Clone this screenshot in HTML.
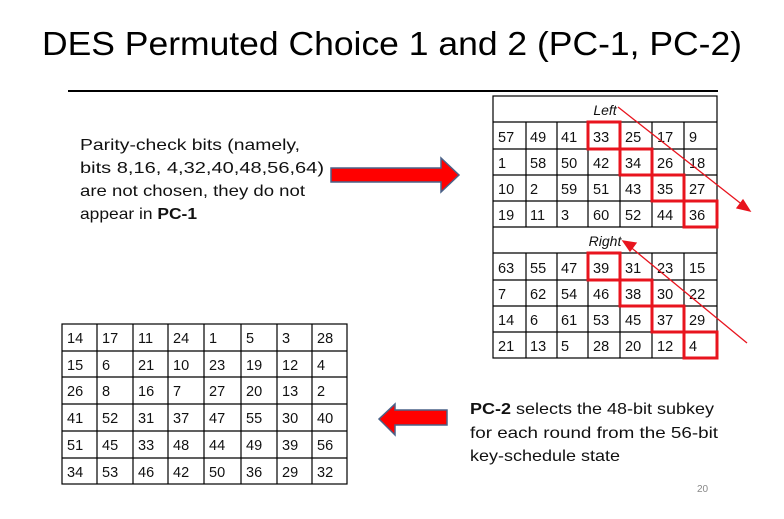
<!DOCTYPE html>
<html><head><meta charset="utf-8"><style>
html,body{margin:0;padding:0;background:#fff;}
svg{display:block;font-family:"Liberation Sans",sans-serif;}
</style></head><body>
<svg width="784" height="519" viewBox="0 0 784 519" xmlns="http://www.w3.org/2000/svg">
<text x="42" y="55" font-size="33" fill="#000" textLength="700" lengthAdjust="spacingAndGlyphs">DES Permuted Choice 1 and 2 (PC-1, PC-2)</text>
<line x1="68" y1="91" x2="718" y2="91" stroke="#000" stroke-width="2"/>
<g font-size="16" fill="#111">
<text x="80" y="150" textLength="220" lengthAdjust="spacingAndGlyphs">Parity-check bits (namely,</text>
<text x="80" y="173" textLength="244" lengthAdjust="spacingAndGlyphs">bits 8,16, 4,32,40,48,56,64)</text>
<text x="80" y="196" textLength="225" lengthAdjust="spacingAndGlyphs">are not chosen, they do not</text>
<text x="80" y="219" textLength="117" lengthAdjust="spacingAndGlyphs">appear in <tspan font-weight="bold">PC-1</tspan></text>
<text x="470" y="414" textLength="244" lengthAdjust="spacingAndGlyphs"><tspan font-weight="bold">PC-2</tspan> selects the 48-bit subkey</text>
<text x="470" y="438" textLength="248" lengthAdjust="spacingAndGlyphs">for each round from the 56-bit</text>
<text x="470" y="461" textLength="150" lengthAdjust="spacingAndGlyphs">key-schedule state</text>
</g>
<text x="697" y="492" font-size="10" fill="#888">20</text>
<polygon points="331,168 441,168 441,158 459,175 441,192 441,182 331,182" fill="#f00" stroke="#4a6288" stroke-width="1.5"/>
<polygon points="447,410 395,410 395,404 379,419 395,435 395,425 447,425" fill="#f00" stroke="#4a6288" stroke-width="1.5"/>
<g stroke="#000" stroke-width="1.2" fill="none">
<rect x="493" y="96" width="224" height="262"/>
<line x1="493" y1="122" x2="717" y2="122"/><line x1="493" y1="149" x2="717" y2="149"/>
<line x1="493" y1="175" x2="717" y2="175"/><line x1="493" y1="201" x2="717" y2="201"/>
<line x1="493" y1="227" x2="717" y2="227"/><line x1="493" y1="253" x2="717" y2="253"/>
<line x1="493" y1="280" x2="717" y2="280"/><line x1="493" y1="306" x2="717" y2="306"/>
<line x1="493" y1="332" x2="717" y2="332"/>
<path d="M526 122V227M557 122V227M588 122V227M620 122V227M652 122V227M684 122V227"/>
<path d="M526 253V358M557 253V358M588 253V358M620 253V358M652 253V358M684 253V358"/>
</g>
<g font-size="14" fill="#111">
<text x="605" y="115" text-anchor="middle" font-style="italic">Left</text>
<text x="605" y="246" text-anchor="middle" font-style="italic">Right</text>
</g>
<g font-size="14.5" fill="#111">
<text y="142"><tspan x="498">57</tspan><tspan x="530">49</tspan><tspan x="561">41</tspan><tspan x="593">33</tspan><tspan x="625">25</tspan><tspan x="657">17</tspan><tspan x="689">9</tspan></text>
<text y="168"><tspan x="498">1</tspan><tspan x="530">58</tspan><tspan x="561">50</tspan><tspan x="593">42</tspan><tspan x="625">34</tspan><tspan x="657">26</tspan><tspan x="689">18</tspan></text>
<text y="194"><tspan x="498">10</tspan><tspan x="530">2</tspan><tspan x="561">59</tspan><tspan x="593">51</tspan><tspan x="625">43</tspan><tspan x="657">35</tspan><tspan x="689">27</tspan></text>
<text y="220"><tspan x="498">19</tspan><tspan x="530">11</tspan><tspan x="561">3</tspan><tspan x="593">60</tspan><tspan x="625">52</tspan><tspan x="657">44</tspan><tspan x="689">36</tspan></text>
<text y="273"><tspan x="498">63</tspan><tspan x="530">55</tspan><tspan x="561">47</tspan><tspan x="593">39</tspan><tspan x="625">31</tspan><tspan x="657">23</tspan><tspan x="689">15</tspan></text>
<text y="299"><tspan x="498">7</tspan><tspan x="530">62</tspan><tspan x="561">54</tspan><tspan x="593">46</tspan><tspan x="625">38</tspan><tspan x="657">30</tspan><tspan x="689">22</tspan></text>
<text y="325"><tspan x="498">14</tspan><tspan x="530">6</tspan><tspan x="561">61</tspan><tspan x="593">53</tspan><tspan x="625">45</tspan><tspan x="657">37</tspan><tspan x="689">29</tspan></text>
<text y="351"><tspan x="498">21</tspan><tspan x="530">13</tspan><tspan x="561">5</tspan><tspan x="593">28</tspan><tspan x="625">20</tspan><tspan x="657">12</tspan><tspan x="689">4</tspan></text>
</g>
<g stroke="#e8141e" stroke-width="3" fill="none">
<rect x="588" y="122" width="32" height="27"/><rect x="620" y="149" width="32" height="26"/>
<rect x="652" y="175" width="32" height="26"/><rect x="684" y="201" width="33" height="26"/>
<rect x="588" y="253" width="32" height="27"/><rect x="620" y="280" width="32" height="26"/>
<rect x="652" y="306" width="32" height="26"/><rect x="684" y="332" width="33" height="26"/>
</g>
<g stroke="#e8141e" stroke-width="1.3" fill="#e8141e">
<line x1="618" y1="107" x2="744" y2="206"/>
<polygon points="750,211 737,208 743,200"/>
<line x1="747" y1="343" x2="628" y2="245"/>
<polygon points="623,241 636,243 630,251"/>
</g>
<g stroke="#000" stroke-width="1.2" fill="none">
<rect x="62" y="324" width="285" height="160"/>
<path d="M62 351H347M62 377H347M62 404H347M62 431H347M62 458H347"/>
<path d="M97 324V484M133 324V484M168 324V484M204 324V484M241 324V484M277 324V484M312 324V484"/>
</g>
<g font-size="14.5" fill="#111">
<text y="343"><tspan x="67">14</tspan><tspan x="102">17</tspan><tspan x="138">11</tspan><tspan x="173">24</tspan><tspan x="209">1</tspan><tspan x="246">5</tspan><tspan x="282">3</tspan><tspan x="317">28</tspan></text>
<text y="370"><tspan x="67">15</tspan><tspan x="102">6</tspan><tspan x="138">21</tspan><tspan x="173">10</tspan><tspan x="209">23</tspan><tspan x="246">19</tspan><tspan x="282">12</tspan><tspan x="317">4</tspan></text>
<text y="396"><tspan x="67">26</tspan><tspan x="102">8</tspan><tspan x="138">16</tspan><tspan x="173">7</tspan><tspan x="209">27</tspan><tspan x="246">20</tspan><tspan x="282">13</tspan><tspan x="317">2</tspan></text>
<text y="423"><tspan x="67">41</tspan><tspan x="102">52</tspan><tspan x="138">31</tspan><tspan x="173">37</tspan><tspan x="209">47</tspan><tspan x="246">55</tspan><tspan x="282">30</tspan><tspan x="317">40</tspan></text>
<text y="450"><tspan x="67">51</tspan><tspan x="102">45</tspan><tspan x="138">33</tspan><tspan x="173">48</tspan><tspan x="209">44</tspan><tspan x="246">49</tspan><tspan x="282">39</tspan><tspan x="317">56</tspan></text>
<text y="477"><tspan x="67">34</tspan><tspan x="102">53</tspan><tspan x="138">46</tspan><tspan x="173">42</tspan><tspan x="209">50</tspan><tspan x="246">36</tspan><tspan x="282">29</tspan><tspan x="317">32</tspan></text>
</g>
</svg>
</body></html>
